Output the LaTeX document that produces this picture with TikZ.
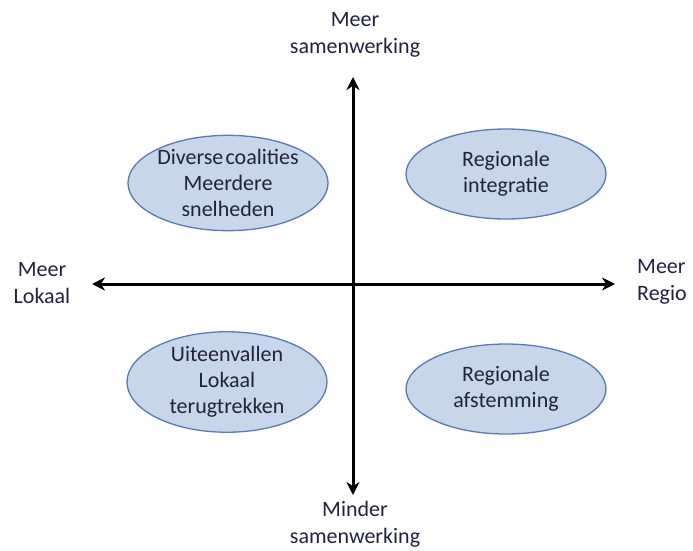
\documentclass[tikz,border=0pt]{standalone}
\usepackage{fontspec}
\setmainfont{Carlito}
\usetikzlibrary{shapes.geometric,arrows.meta}
\definecolor{txt}{HTML}{1F2240}
\definecolor{efill}{HTML}{C7D6EA}
\definecolor{edraw}{HTML}{5B7BAE}
\tikzset{
  lbl/.style={align=center,text=txt,font=\fontsize{22}{26.5}\selectfont,inner sep=0pt},
  quad/.style={ellipse,draw=edraw,line width=1.3pt,fill=efill,minimum width=200pt,minimum height=90pt,inner sep=0pt,align=center,text=txt,font=\fontsize{22}{26}\selectfont},
  axis/.style={line width=3pt,{Stealth[length=13pt,width=13pt]}-{Stealth[length=13pt,width=13pt]}}
}
\begin{document}
\begin{tikzpicture}[x=1pt,y=-1pt]
\useasboundingbox (0,0) rectangle (693,551);
\coordinate (top) at (353,77);
\coordinate (bot) at (353,495);
\coordinate (lft) at (92,284);
\coordinate (rgt) at (615,284);
\draw[axis] (top) -- (bot);
\draw[axis] (lft) -- (rgt);
\node[lbl] (ms) at (355,35) {Meer\\samenwerking};
\node[lbl] (ml) at (42,283) {Meer\\Lokaal};
\node[lbl,anchor=west,align=left] (mr) at (637,282) {Meer\\Regio};
\node[lbl] (mi) at (355,524) {Minder\\samenwerking};
\node[quad] (tl) at (228,183) {Diverse\hspace{0.1em}coalities\\Meerdere\\snelheden};
\node[quad] (tr) at (506,174) {Regionale\\integratie};
\node[quad] (bl) at (227,382) {Uiteenvallen\\Lokaal\\terugtrekken};
\node[quad] (br) at (506,389) {Regionale\\afstemming};
\end{tikzpicture}
\end{document}
